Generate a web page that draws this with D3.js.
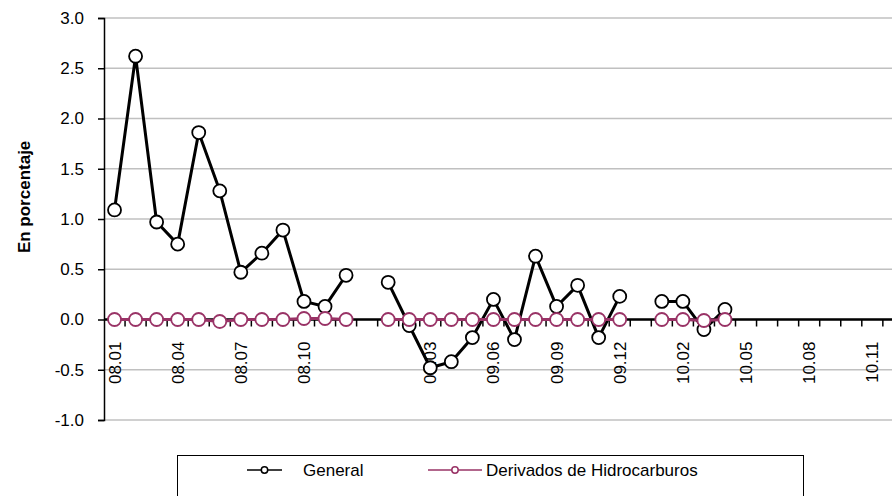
<!DOCTYPE html>
<html>
<head>
<meta charset="utf-8">
<script src="https://cdn.jsdelivr.net/npm/d3@7"></script>
<style>
  body { margin: 0; background: #fff; }
  svg { display: block; font-family: "Liberation Sans", Arial, sans-serif; }
</style>
</head>
<body>
<div id="grafica"></div>
<script>
'use strict'

//---------------------------Datos--------------------------------//
// meses (con un hueco vacio entre cada año que tiene datos)
var meses = ['08.01', '08.02', '08.03', '08.04', '08.05', '08.06', '08.07', '08.08', '08.09', '08.10', '08.11', '08.12', '',
  '09.01', '09.02', '09.03', '09.04', '09.05', '09.06', '09.07', '09.08', '09.09', '09.10', '09.11', '09.12', '',
  '10.01', '10.02', '10.03', '10.04', '10.05', '10.06', '10.07', '10.08', '10.09', '10.10', '10.11', '10.12'];

var general = [1.09, 2.62, 0.97, 0.75, 1.86, 1.28, 0.47, 0.66, 0.89, 0.18, 0.13, 0.44, null,
  0.37, -0.06, -0.48, -0.42, -0.18, 0.20, -0.20, 0.63, 0.13, 0.34, -0.18, 0.23, null,
  0.18, 0.18, -0.10, 0.10, null, null, null, null, null, null, null, null];

var hidrocarburos = [0.0, 0.0, 0.0, 0.0, 0.0, -0.02, 0.0, 0.0, 0.0, 0.01, 0.01, 0.0, null,
  0.0, 0.0, 0.0, 0.0, 0.0, 0.0, 0.0, 0.0, 0.0, 0.0, 0.0, 0.0, null,
  0.0, 0.0, -0.01, 0.0, null, null, null, null, null, null, null, null];

var yTicks = [-1.0, -0.5, 0.0, 0.5, 1.0, 1.5, 2.0, 2.5, 3.0];
var series = [
  { nombre: 'General', valores: general, color: '#000000' },
  { nombre: 'Derivados de Hidrocarburos', valores: hidrocarburos, color: '#993366' }
];

//---------------------------Grafica--------------------------------//
var width = 892, height = 496;
var margenIzq = 104, margenSup = 18, margenInf = 420;
var paso = 21.05;

var svg = d3.select('#grafica').append('svg')
  .attr('width', width)
  .attr('height', height);

var x = d3.scaleBand().domain(d3.range(meses.length)).range([margenIzq, margenIzq + paso * meses.length]);
var y = d3.scaleLinear().domain([-1, 3]).range([margenInf, margenSup]);

// lineas de cuadricula
svg.append('g')
  .selectAll('line')
  .data(yTicks)
  .enter().append('line')
  .attr('x1', margenIzq).attr('x2', margenIzq + paso * meses.length)
  .attr('y1', d => y(d)).attr('y2', d => y(d))
  .attr('stroke', '#c0c0c0')
  .attr('stroke-width', 1.5);

// eje Y (con guion normal como signo menos)
var formato = function (d) { return d3.format('.1f')(d).replace('\u2212', '-'); };
var ejeY = svg.append('g')
  .attr('transform', 'translate(' + margenIzq + ',0)')
  .call(d3.axisLeft(y).tickValues(yTicks).tickFormat(formato).tickSize(6).tickPadding(14));
ejeY.select('.domain').attr('stroke', '#000').attr('stroke-width', 1.5);
ejeY.selectAll('.tick line').attr('stroke', '#000').attr('stroke-width', 1.5);
ejeY.selectAll('text').attr('font-size', 17).attr('fill', '#000')
  .attr('font-family', '"Liberation Sans", Arial, sans-serif');

// eje X en el cero
var y0 = y(0);
svg.append('line')
  .attr('x1', margenIzq).attr('x2', margenIzq + paso * meses.length)
  .attr('y1', y0).attr('y2', y0)
  .attr('stroke', '#000').attr('stroke-width', 2.5);

// marcas entre categorias
svg.append('g')
  .selectAll('line')
  .data(d3.range(1, meses.length))
  .enter().append('line')
  .attr('x1', i => x(i)).attr('x2', i => x(i))
  .attr('y1', y0).attr('y2', y0 + 7)
  .attr('stroke', '#000').attr('stroke-width', 1.5);

// etiquetas del eje X (cada 3 meses)
svg.append('g')
  .selectAll('text')
  .data(d3.range(0, meses.length, 3))
  .enter().append('text')
  .attr('transform', i => 'translate(' + (x(i) + x.bandwidth() / 2 + 6) + ',' + (y0 + 22) + ') rotate(-90)')
  .attr('text-anchor', 'end')
  .attr('font-size', 17)
  .text(i => meses[i]);

// titulo eje Y
svg.append('text')
  .attr('transform', 'translate(30,' + y(1.22) + ') rotate(-90)')
  .attr('text-anchor', 'middle')
  .attr('font-size', 17)
  .attr('font-weight', 'bold')
  .text('En porcentaje');

// lineas y marcadores
var linea = d3.line()
  .defined(d => d.v !== null)
  .x(d => x(d.i) + x.bandwidth() / 2)
  .y(d => y(d.v));

series.forEach(function (s) {
  var puntos = s.valores.map(function (v, i) { return { i: i, v: v }; });
  var g = svg.append('g');
  g.append('path')
    .datum(puntos)
    .attr('fill', 'none')
    .attr('stroke', s.color)
    .attr('stroke-width', 3)
    .attr('stroke-linejoin', 'round')
    .attr('d', linea);
  g.selectAll('circle')
    .data(puntos.filter(d => d.v !== null))
    .enter().append('circle')
    .attr('cx', d => x(d.i) + x.bandwidth() / 2)
    .attr('cy', d => y(d.v))
    .attr('r', 6.5)
    .attr('fill', '#fff')
    .attr('stroke', s.color)
    .attr('stroke-width', 1.8);
});

//---------------------------Leyenda--------------------------------//
svg.append('rect')
  .attr('x', 177.5).attr('y', 455.5)
  .attr('width', 626).attr('height', 60)
  .attr('fill', 'none')
  .attr('stroke', '#000')
  .attr('stroke-width', 1);

var leyenda = [
  { s: series[0], x1: 247, x2: 282, tx: 303 },
  { s: series[1], x1: 428, x2: 482, tx: 486 }
];
leyenda.forEach(function (l) {
  var yl = 470;
  svg.append('line')
    .attr('x1', l.x1).attr('x2', l.x2)
    .attr('y1', yl).attr('y2', yl)
    .attr('stroke', l.s.color).attr('stroke-width', 1.5);
  svg.append('circle')
    .attr('cx', (l.x1 + l.x2) / 2).attr('cy', yl)
    .attr('r', 3.2)
    .attr('fill', '#fff')
    .attr('stroke', l.s.color).attr('stroke-width', 1.5);
  svg.append('text')
    .attr('x', l.tx).attr('y', yl + 6)
    .attr('font-size', 17)
    .text(l.s.nombre);
});
</script>
</body>
</html>
